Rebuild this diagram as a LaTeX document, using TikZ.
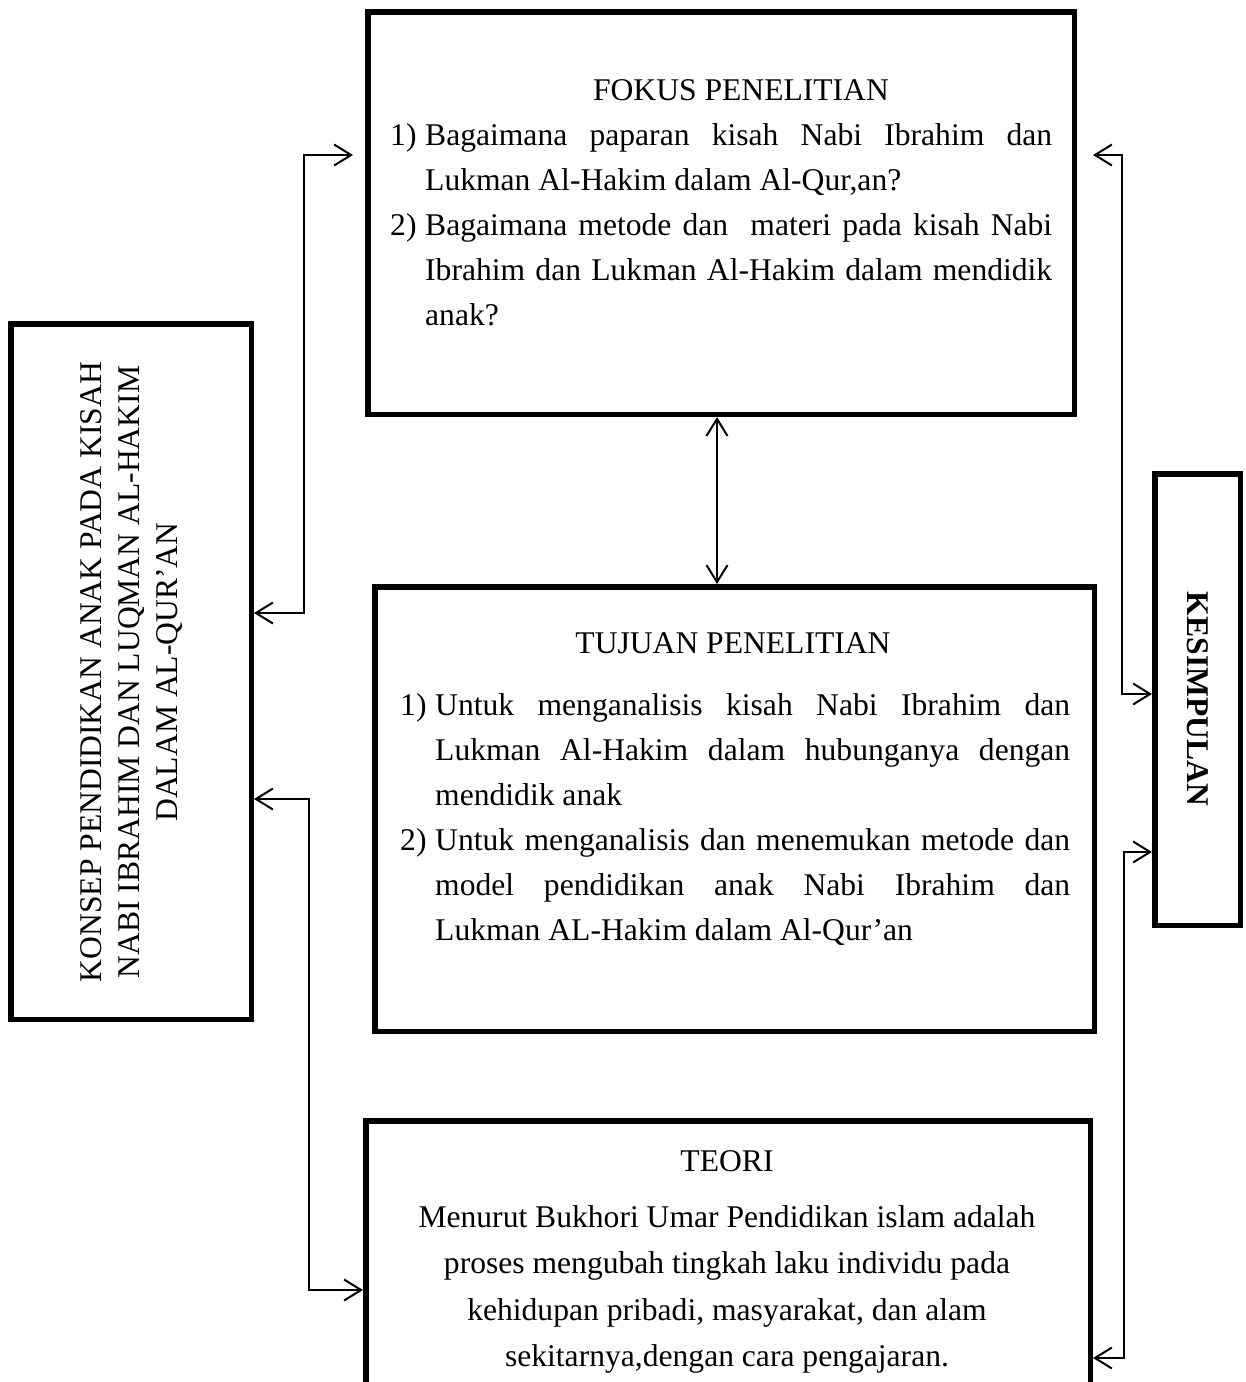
\documentclass[tikz,border=0pt]{standalone}
\usepackage{fontspec}
\setmainfont{Liberation Serif}
\usetikzlibrary{arrows.meta}
\newcommand{\itm}[2]{\noindent\hangindent=35pt\hangafter=1\makebox[35pt][l]{#1}#2\par}
\begin{document}
\begin{tikzpicture}[x=1pt,y=-1pt,
  box/.style={draw, line width=5.5pt, inner sep=0pt, rectangle},
  link/.style={line width=2pt, {Straight Barb[length=17pt,width=21pt]}-{Straight Barb[length=17pt,width=21pt]}},
  txt/.style={inner sep=0pt, font=\fontsize{31.6}{45}\selectfont}]
\useasboundingbox (0,0) rectangle (1246,1382);
\fill[white] (0,0) rectangle (1246,1382);
\clip (0,0) rectangle (1246,1382);
% boxes
\node[box, minimum width=706.5pt, minimum height=402.5pt] (fokus) at (721,213) {};
\node[box, minimum width=719.5pt, minimum height=444.5pt] (tujuan) at (734.5,809) {};
\node[box, minimum width=724.5pt, minimum height=376.5pt] (teori) at (728,1309) {};
\node[box, minimum width=240.5pt, minimum height=695.5pt] (konsep) at (131,671.5) {};
\node[box, minimum width=85.5pt, minimum height=451.5pt] (kesimpulan) at (1197.5,699.5) {};
% texts
\node[txt, anchor=base] (fokusT) at (741,100) {FOKUS PENELITIAN};
\node[txt, anchor=base west] (fokusL) at (390,145) {\parbox[t]{662pt}{\fontsize{31.6}{45}\selectfont
\itm{1)}{Bagaimana paparan kisah Nabi Ibrahim dan\linebreak Lukman Al-Hakim dalam Al-Qur,an?}
\itm{2)}{Bagaimana metode dan\ \ materi pada kisah Nabi\linebreak Ibrahim dan Lukman Al-Hakim dalam mendidik\linebreak anak?}}};
\node[txt, anchor=base] (tujuanT) at (733,653) {TUJUAN PENELITIAN};
\node[txt, anchor=base west] (tujuanL) at (400,715) {\parbox[t]{670pt}{\fontsize{31.6}{45}\selectfont
\itm{1)}{Untuk menganalisis kisah Nabi Ibrahim dan\linebreak Lukman Al-Hakim dalam hubunganya dengan\linebreak mendidik anak}
\itm{2)}{Untuk menganalisis dan menemukan metode dan\linebreak model pendidikan anak Nabi Ibrahim dan\linebreak Lukman AL-Hakim dalam Al-Qur’an}}};
\node[txt, anchor=base] (teoriT) at (727,1171) {TEORI};
\node[txt, anchor=base] (teoriL) at (727,1227) {\parbox[t]{700pt}{\centering\fontsize{31.6}{46.5}\selectfont
Menurut Bukhori Umar Pendidikan islam adalah\\
proses mengubah tingkah laku individu pada\\
kehidupan pribadi, masyarakat, dan alam\\
sekitarnya,dengan cara pengajaran.}};
\node[txt, rotate=90, align=center, font=\fontsize{31.6}{38}\selectfont] (konsepT) at (132,672)
  {KONSEP PENDIDIKAN ANAK PADA KISAH\\NABI IBRAHIM DAN LUQMAN AL-HAKIM\\DALAM AL-QUR’AN};
\node[txt, rotate=-90, font=\fontsize{31.6}{38}\selectfont\bfseries] (kesT) at (1198,699) {KESIMPULAN};
% connectors
\draw[link, shorten >=12pt] (konsep.east |- 0,613) -| (304,155) -- (fokus.west |- 0,155);
\draw[link] (konsep.east |- 0,799) -| (309,1290) -- (teori.west |- 0,1290);
\draw[link] (fokus.south -| 717,0) -- (tujuan.north -| 717,0);
\draw[link, shorten <=16pt] (fokus.east |- 0,155) -| (1122,694) -- (kesimpulan.west |- 0,694);
\draw[link] (kesimpulan.west |- 0,852) -| (1124,1358) -- (teori.east |- 0,1358);
\end{tikzpicture}
\end{document}
